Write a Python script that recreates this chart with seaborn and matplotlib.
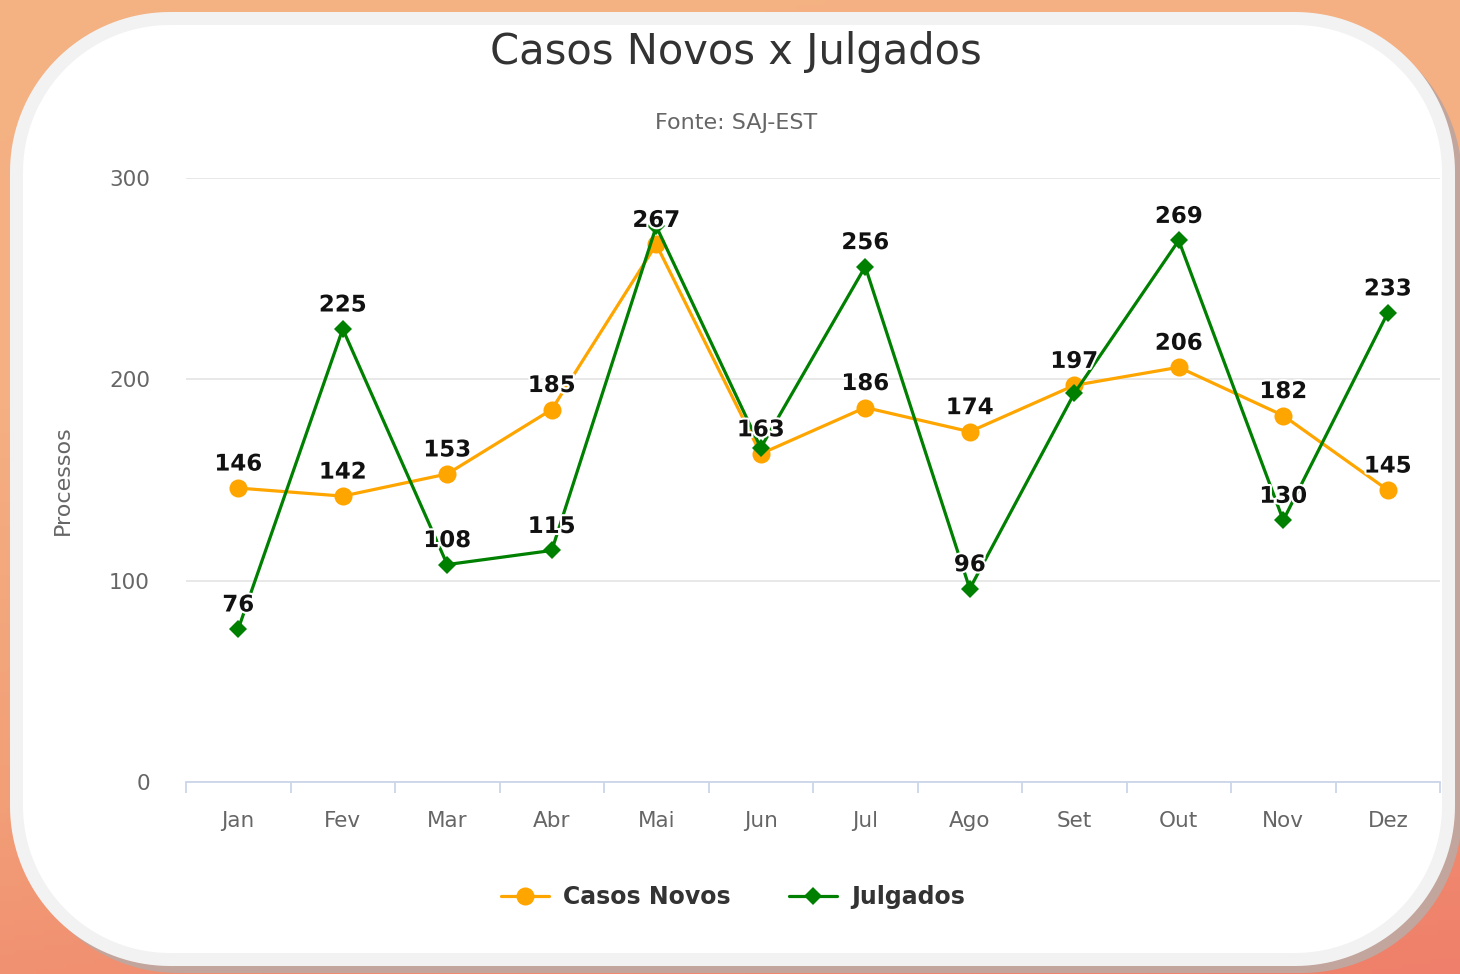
import numpy as np
import pandas as pd
import matplotlib.pyplot as plt
import matplotlib.patheffects as pe
from matplotlib.patches import Polygon
from matplotlib.colors import LinearSegmentedColormap
import seaborn as sns

# data
meses = ['Jan', 'Fev', 'Mar', 'Abr', 'Mai', 'Jun', 'Jul', 'Ago', 'Set', 'Out', 'Nov', 'Dez']
casos_novos = [146, 142, 153, 185, 267, 163, 186, 174, 197, 206, 182, 145]
julgados = [76, 225, 108, 115, 276, 166, 256, 96, 193, 269, 130, 233]
# labels the original chart hides because they overlap
julgados_ocultos = ['Mai', 'Jun', 'Set']

sns.set_theme(style='white')
plt.rcParams['font.family'] = ['DejaVu Sans']

W, H = 1460, 974
fig = plt.figure(figsize=(W / 100, H / 100), dpi=100)

# gradient background, drawn in pixel coordinates
bg = fig.add_axes([0, 0, 1, 1], zorder=-10)
cmap = LinearSegmentedColormap.from_list('bg', ['#F4B283', '#F4AF82', '#F29E77', '#EF7F6A'])
yy, xx = np.mgrid[0:1:200j, 0:1:200j]
grad = 0.8 * yy + 0.2 * xx
bg.imshow(grad, cmap=cmap, extent=[0, W, H, 0], aspect='auto')
bg.set_xlim(0, W)
bg.set_ylim(H, 0)
bg.set_axis_off()


# rounded card (circular corners like a CSS border-radius)
def card(x0, y0, x1, y1, color, r):
    pts = []
    corners = [(x1 - r, y0 + r, -90, 0), (x1 - r, y1 - r, 0, 90),
               (x0 + r, y1 - r, 90, 180), (x0 + r, y0 + r, 180, 270)]
    for cx, cy, a0, a1 in corners:
        a = np.radians(np.linspace(a0, a1, 40))
        pts += list(zip(cx + r * np.cos(a), cy + r * np.sin(a)))
    bg.add_patch(Polygon(pts, closed=True, facecolor=color, edgecolor='none'))


card(18, 20, 1462, 973, '#C2A59C', 160)
card(10, 12, 1455, 966, '#F2F2F2', 160)
card(23, 25, 1442, 953, '#FFFFFF', 147)

# plot area
ax = fig.add_axes([186 / W, 1 - 782 / H, (1440 - 186) / W, (782 - 178) / H], zorder=5)
ax.patch.set_alpha(0)

df = pd.DataFrame({'mes': meses, 'Casos Novos': casos_novos, 'Julgados': julgados})

sns.lineplot(data=df, x='mes', y='Casos Novos', ax=ax, color='#FFA500', lw=2.3,
             marker='o', markersize=13, markeredgewidth=0, label='Casos Novos', zorder=3)
sns.lineplot(data=df, x='mes', y='Julgados', ax=ax, color='#008000', lw=2.3,
             marker='D', markersize=9.5, markeredgewidth=0, label='Julgados', zorder=4)

stroke = [pe.withStroke(linewidth=3, foreground='white')]
for i, m in enumerate(meses):
    ax.annotate(str(casos_novos[i]), (i, casos_novos[i]), xytext=(0, 9), textcoords='offset points',
                ha='center', va='bottom', fontsize=16.5, fontweight='bold', color='#111111',
                path_effects=stroke, zorder=6)
    if m not in julgados_ocultos:
        ax.annotate(str(julgados[i]), (i, julgados[i]), xytext=(0, 9), textcoords='offset points',
                    ha='center', va='bottom', fontsize=16.5, fontweight='bold', color='#111111',
                    path_effects=stroke, zorder=6)

ax.set_xlim(-0.5, 11.5)
ax.set_ylim(0, 300)
ax.set_yticks([0, 100, 200, 300])
ax.set_xticks(range(12))
ax.set_xticklabels(meses)
ax.set_xticks(np.arange(-0.5, 12, 1), minor=True)
ax.grid(axis='y', color='#E6E6E6', lw=1.3)
ax.grid(axis='x', visible=False)
for s in ['top', 'right', 'left']:
    ax.spines[s].set_visible(False)
ax.spines['bottom'].set_color('#CCD6EB')
ax.spines['bottom'].set_linewidth(1.3)
ax.tick_params(axis='x', which='major', bottom=True, length=0, pad=21, labelsize=15.5, labelcolor='#666666')
ax.tick_params(axis='x', which='minor', bottom=True, length=8, width=1.3, color='#CCD6EB', direction='out')
ax.tick_params(axis='y', length=0, pad=26, labelsize=15.5, labelcolor='#666666')
ax.set_xlabel('')
ax.set_ylabel('Processos', fontsize=16, color='#666666', labelpad=26)

leg = ax.legend(loc='center', bbox_to_anchor=(733 / W, 1 - 897 / H), bbox_transform=fig.transFigure,
                ncol=2, frameon=False, handlelength=2.0, columnspacing=2.5, handletextpad=0.6,
                prop={'size': 17, 'weight': 'bold'})
for t in leg.get_texts():
    t.set_color('#333333')

fig.text(736 / W, 1 - 52 / H, 'Casos Novos x Julgados', ha='center', va='center',
         fontsize=30, color='#333333', zorder=10)
fig.text(736 / W, 1 - 123 / H, 'Fonte: SAJ-EST', ha='center', va='center',
         fontsize=16, color='#666666', zorder=10)

fig.savefig('out.png', dpi=100)
